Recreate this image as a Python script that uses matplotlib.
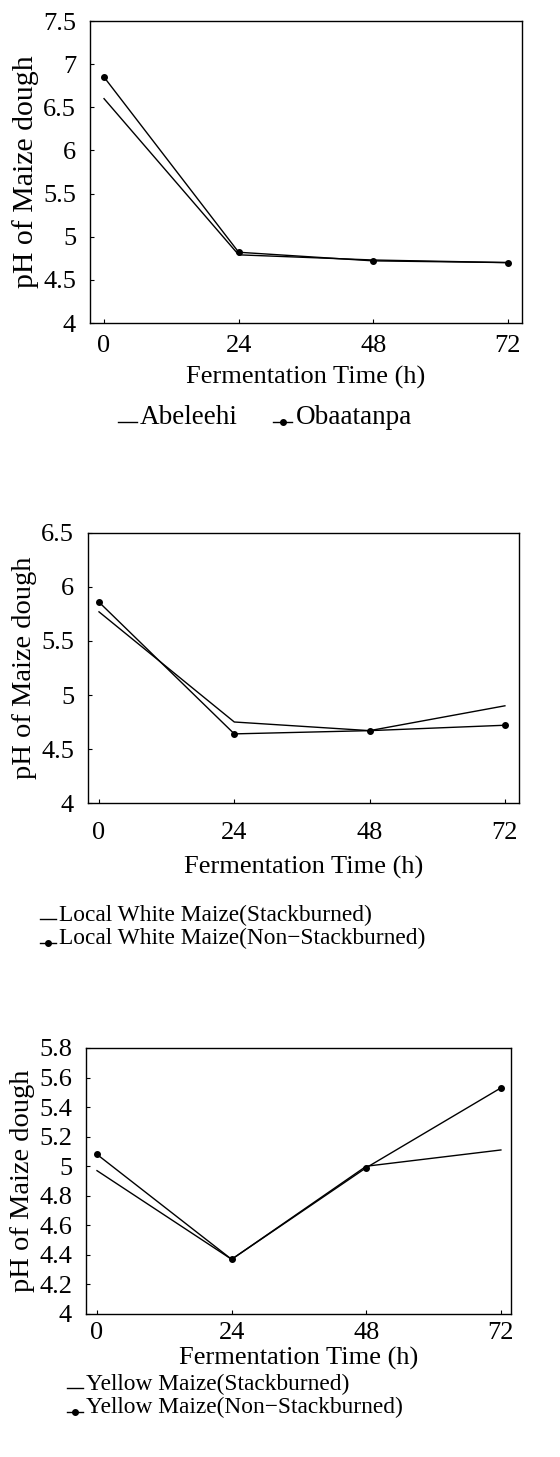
import matplotlib
matplotlib.use("Agg")
import matplotlib.pyplot as plt
from matplotlib.legend_handler import HandlerLine2D

plt.rcParams['font.family'] = ['Liberation Serif', 'DejaVu Serif']

# ---------------- data ----------------
time_h = [0, 24, 48, 72]
time_labels = ["0", "24", "48", "72"]

# Panel 1
abeleehi = [6.60, 4.79, 4.73, 4.70]
obaatanpa = [6.85, 4.82, 4.72, 4.70]
p1_yticks = [4, 4.5, 5, 5.5, 6, 6.5, 7, 7.5]
p1_ylabels = ["4", "4.5", "5", "5.5", "6", "6.5", "7", "7.5"]

# Panel 2
white_stack = [5.77, 4.75, 4.67, 4.90]
white_nonstack = [5.86, 4.64, 4.67, 4.72]
p2_yticks = [4, 4.5, 5, 5.5, 6, 6.5]
p2_ylabels = ["4", "4.5", "5", "5.5", "6", "6.5"]

# Panel 3
yellow_stack = [4.97, 4.37, 5.00, 5.11]
yellow_nonstack = [5.08, 4.37, 4.99, 5.53]
p3_yticks = [4, 4.2, 4.4, 4.6, 4.8, 5, 5.2, 5.4, 5.6, 5.8]
p3_ylabels = ["4", "4.2", "4.4", "4.6", "4.8", "5", "5.2", "5.4", "5.6", "5.8"]

# ---------------- layout ----------------
W, H = 560, 1457
fig = plt.figure(figsize=(W / 100, H / 100), dpi=100)

FS_TICK = 19
FS_XLAB = 19


class LowHandler(HandlerLine2D):
    """Legend sample drawn near the text baseline, as in the original."""

    def create_artists(self, legend, orig_handle, xdescent, ydescent,
                       width, height, fontsize, trans):
        arts = super().create_artists(legend, orig_handle, xdescent, ydescent,
                                      width, height, fontsize, trans)
        for a in arts:
            yd = a.get_ydata()
            a.set_ydata([v - 0.28 * fontsize for v in yd])
        return arts


def px_axes(left, right, top, bottom):
    return fig.add_axes([left / W, 1 - bottom / H, (right - left) / W, (bottom - top) / H])


def style(ax, xlim, ylim, yticks, ylabels, tickpad, labelpad, ylab_fs):
    ax.set_xlim(*xlim)
    ax.set_ylim(*ylim)
    ax.set_xticks(time_h)
    ax.set_xticklabels(time_labels, fontsize=FS_TICK)
    ax.set_yticks(yticks)
    ax.set_yticklabels(ylabels, fontsize=FS_TICK)
    ax.tick_params(axis='x', direction='in', length=3, width=0.8, pad=tickpad)
    ax.tick_params(axis='y', direction='in', length=3, width=0.8, pad=10)
    for s in ax.spines.values():
        s.set_linewidth(1.0)
        s.set_color('black')
    ax.set_xlabel("Fermentation Time (h)", fontsize=FS_XLAB, labelpad=labelpad)
    ax.set_ylabel("pH of Maize dough", fontsize=ylab_fs, labelpad=3)


def legend_at(handles, labels, x, y, ncol, fs, colsp=1.3):
    hm = {h: LowHandler() for h in handles}
    leg = fig.legend(handles, labels, loc='center left',
                     bbox_to_anchor=(x / W, 1 - y / H), ncol=ncol,
                     frameon=False, fontsize=fs, handlelength=0.7,
                     handletextpad=0.12, columnspacing=colsp,
                     labelspacing=0.1, borderpad=0, borderaxespad=0,
                     handler_map=hm)
    return leg


LW = 1.0
MS = 4

# Panel 1
ax1 = px_axes(90, 522, 21, 323)
l1, = ax1.plot(time_h, abeleehi, color='black', lw=LW)
l2, = ax1.plot(time_h, obaatanpa, color='black', lw=LW, marker='o', ms=MS)
style(ax1, (-2.5, 74.5), (4, 7.5), p1_yticks, p1_ylabels, tickpad=9, labelpad=6, ylab_fs=21.5)
legend_at([l1, l2], ["Abeleehi", "Obaatanpa"], 118, 417, 2, 19.5, colsp=1.3)

# Panel 2
ax2 = px_axes(88, 519, 533, 803)
m1, = ax2.plot(time_h, white_stack, color='black', lw=LW)
m2, = ax2.plot(time_h, white_nonstack, color='black', lw=LW, marker='o', ms=MS)
style(ax2, (-1.95, 74.5), (4, 6.5), p2_yticks, p2_ylabels, tickpad=14, labelpad=8, ylab_fs=20.5)
legend_at([m1, m2], ["Local White Maize(Stackburned)",
                     "Local White Maize(Non\u2212Stackburned)"], 40, 927, 1, 16.8)

# Panel 3
ax3 = px_axes(86, 511, 1048, 1314)
n1, = ax3.plot(time_h, yellow_stack, color='black', lw=LW)
n2, = ax3.plot(time_h, yellow_nonstack, color='black', lw=LW, marker='o', ms=MS)
style(ax3, (-1.96, 73.8), (4, 5.8), p3_yticks, p3_ylabels, tickpad=6, labelpad=2, ylab_fs=20.5)
legend_at([n1, n2], ["Yellow Maize(Stackburned)",
                     "Yellow Maize(Non\u2212Stackburned)"], 67, 1396, 1, 16.8)

fig.savefig("out.png", dpi=100)
